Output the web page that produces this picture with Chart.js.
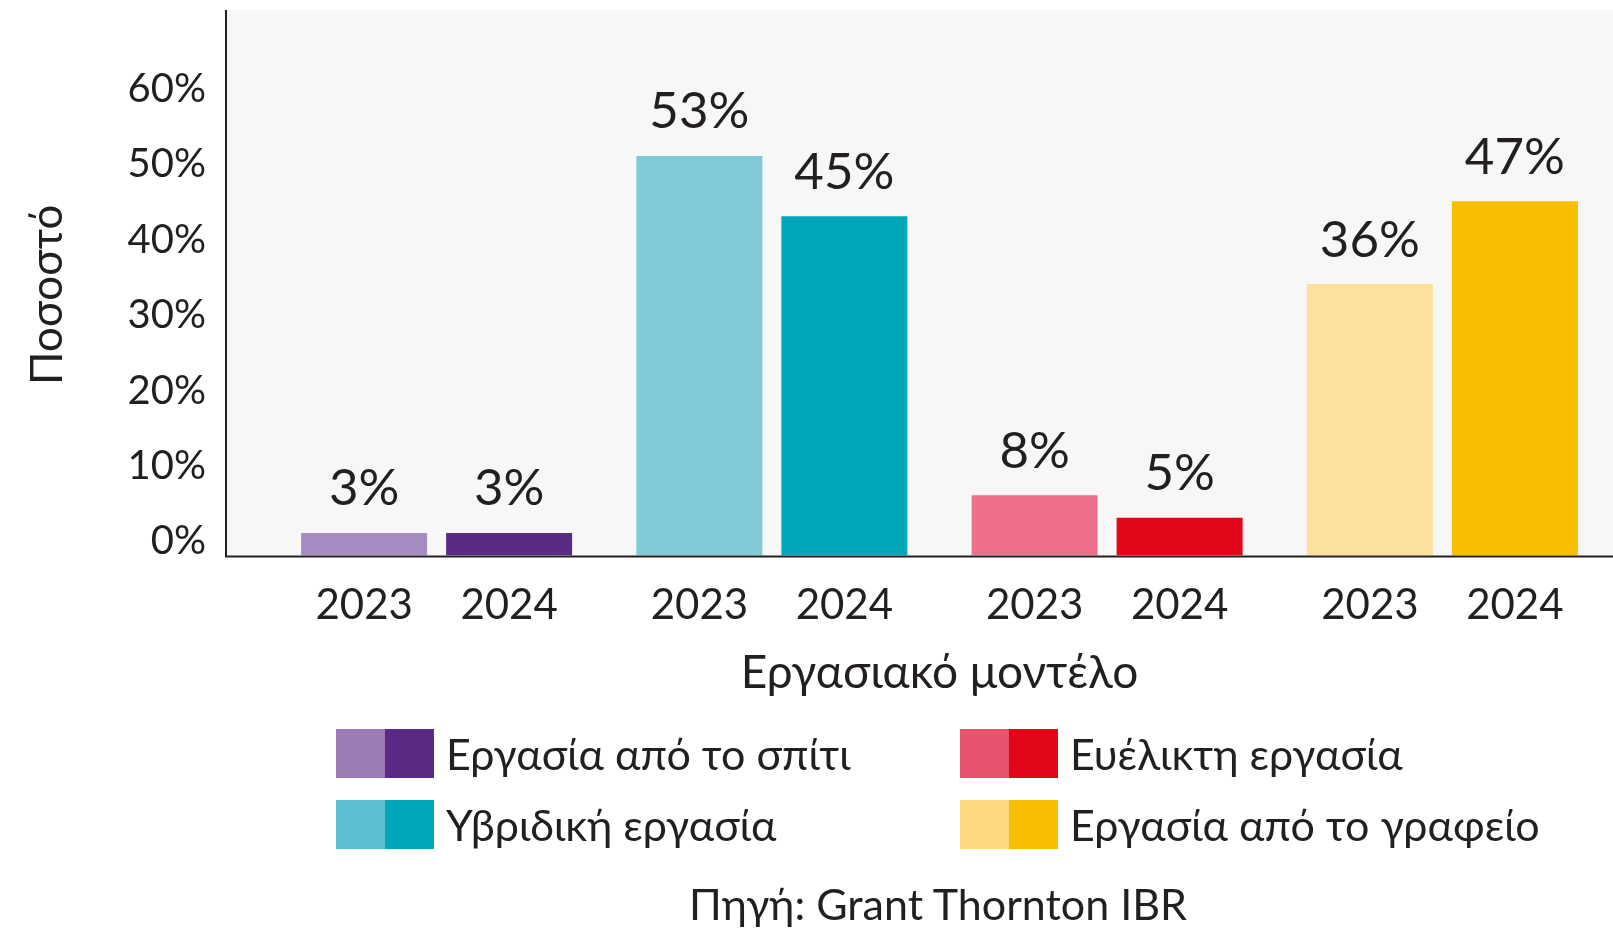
<!DOCTYPE html>
<html lang="el">
<head>
<meta charset="utf-8">
<title>Εργασιακό μοντέλο</title>
<script src="https://cdn.jsdelivr.net/npm/chart.js@4.4.1/dist/chart.umd.min.js"></script>
<style>
  html, body { margin: 0; padding: 0; background: #ffffff; }
  body { font-family: Lato, "Noto Sans", sans-serif; color: #231f20; }
  #wrap { position: relative; width: 1613px; height: 931px; }
  #chart { position: absolute; left: 0; top: 0; }
  #legend {
    position: absolute; left: 336px; top: 729px;
    display: grid; grid-auto-flow: column;
    grid-template-rows: 49px 49px; grid-template-columns: 624px auto;
    row-gap: 22px;
  }
  .item { display: flex; align-items: center; font-size: 43px; white-space: nowrap; }
  .sw { width: 49px; height: 49px; }
  .item span { margin-left: 12px; }
  #source {
    position: absolute; left: 0; width: 1876px; top: 878px;
    text-align: center; font-size: 43px;
  }
</style>
</head>
<body>
<div id="wrap">
  <canvas id="chart" width="1613" height="931"></canvas>
  <div id="legend"></div>
  <div id="source">Πηγή: Grant Thornton IBR</div>
</div>
<script>
// data -----------------------------------------------------------
const groups = ['Εργασία από το σπίτι', 'Υβριδική εργασία', 'Ευέλικτη εργασία', 'Εργασία από το γραφείο'];
const years = ['2023', '2024'];
const values2023 = [3, 53, 8, 36];
const values2024 = [3, 45, 5, 47];
const yTickValues = [0, 10, 20, 30, 40, 50, 60];

const colors2023 = ['#a68bc2', '#7fcad6', '#ee6f8a', '#fde09b'];
const colors2024 = ['#5a2a85', '#00a7bb', '#e10718', '#f9be00'];
const legendLight = ['#9a7bb6', '#5bc1d0', '#e9526f', '#ffd97f'];

const textColor = '#231f20';
const fontFamily = 'Lato, "Noto Sans", sans-serif';

// legend (two swatches per group) --------------------------------
const legendBox = document.getElementById('legend');
groups.forEach(function (g, i) {
  const item = document.createElement('div');
  item.className = 'item';
  item.innerHTML = '<div class="sw" style="background:' + legendLight[i] + '"></div>' +
    '<div class="sw" style="background:' + colors2024[i] + '"></div><span>' + g + '</span>';
  legendBox.appendChild(item);
});

// plot background, axis lines, value and year labels, y title
const decor = {
  id: 'decor',
  beforeDraw: function (chart) {
    const ctx = chart.ctx, a = chart.chartArea;
    ctx.save();
    ctx.fillStyle = '#f7f7f7';
    ctx.fillRect(a.left - 43, a.top, chart.width - a.left + 43, a.bottom - a.top);
    ctx.restore();
  },
  afterDraw: function (chart) {
    "use strict";
    const ctx = chart.ctx, a = chart.chartArea;
    const axisX = a.left - 43;
    ctx.save();
    ctx.strokeStyle = textColor;
    ctx.lineWidth = 2;
    ctx.beginPath();
    ctx.moveTo(axisX, a.top);
    ctx.lineTo(axisX, a.bottom + 1);
    ctx.moveTo(axisX - 1, a.bottom + 1);
    ctx.lineTo(chart.width, a.bottom + 1);
    ctx.stroke();

    ctx.fillStyle = textColor;
    ctx.textAlign = 'center';
    ctx.textBaseline = 'middle';
    chart.data.datasets.forEach(function (ds, d) {
      chart.getDatasetMeta(d).data.forEach(function (bar, i) {
        ctx.font = '51px ' + fontFamily;
        ctx.fillText(ds.data[i] + '%', bar.x, bar.y - 44);
        ctx.font = '42px ' + fontFamily;
        ctx.fillText(years[d], bar.x, a.bottom + 50);
      });
    });

    ctx.font = '44px ' + fontFamily;
    ctx.translate(48, (a.top + a.bottom) / 2 + 12);
    ctx.rotate(-Math.PI / 2);
    ctx.fillText('Ποσοστό', 0, 0);
    ctx.restore();
  }
};

const chartdata = {
  labels: groups,
  datasets: [
    { label: years[0], data: values2023, backgroundColor: colors2023,
      categoryPercentage: 0.865, barPercentage: 0.869 },
    { label: years[1], data: values2024, backgroundColor: colors2024,
      categoryPercentage: 0.865, barPercentage: 0.869 }
  ]
};

const config = {
  type: 'bar',
  data: chartdata,
  options: {
    responsive: false,
    animation: false,
    layout: { padding: { top: 10, right: 3, left: 0, bottom: 0 } },
    plugins: {
      legend: { display: false },
      tooltip: { enabled: false }
    },
    scales: {
      x: {
        grid: { display: false, drawTicks: false },
        border: { display: false },
        ticks: { display: false },
        afterFit: function (scale) {
          scale.height = 931 - 10 - 545.5;
          scale.paddingLeft = 0;
          scale.paddingRight = 0;
        },
        title: {
          display: true,
          text: 'Εργασιακό μοντέλο',
          color: textColor,
          font: { family: fontFamily, size: 46 },
          padding: { top: 0, bottom: 230 }
        }
      },
      y: {
        min: 0,
        max: 72.35,
        grid: { display: false, drawTicks: false },
        border: { display: false },
        afterFit: function (scale) {
          scale.width = 269;
          scale.paddingTop = 0;
          scale.paddingBottom = 0;
        },
        afterBuildTicks: function (scale) {
          scale.ticks = yTickValues.map(function (v) { return { value: v }; });
        },
        ticks: {
          padding: 63,
          labelOffset: -14,
          color: textColor,
          font: { family: fontFamily, size: 40 },
          callback: function (v) { return v + '%'; }
        }
      }
    }
  },
  plugins: [decor]
};

new Chart(document.getElementById('chart'), config);
</script>
</body>
</html>
